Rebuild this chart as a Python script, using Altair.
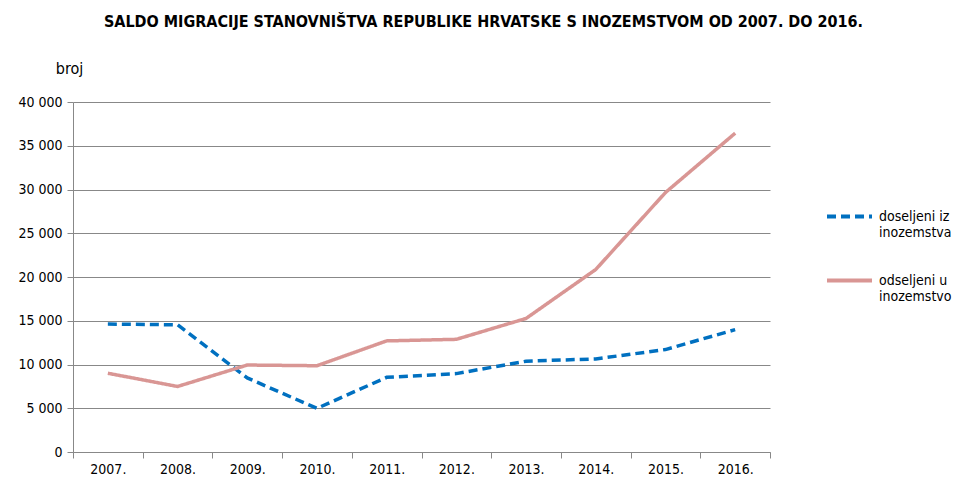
import altair as alt
import pandas as pd

years = ["2007.", "2008.", "2009.", "2010.", "2011.", "2012.", "2013.", "2014.", "2015.", "2016."]
doseljeni = [14622, 14541, 8468, 4985, 8534, 8959, 10378, 10638, 11706, 13985]
odseljeni = [9002, 7488, 9940, 9860, 12699, 12877, 15262, 20858, 29651, 36436]
series = ["doseljeni iz inozemstva", "odseljeni u inozemstvo"]

rows = []
for i, y in enumerate(years):
    rows.append({"godina": y, "serija": series[0], "broj": doseljeni[i]})
    rows.append({"godina": y, "serija": series[1], "broj": odseljeni[i]})
df = pd.DataFrame(rows)

FONT = "Liberation Sans Narrow, DejaVu Sans Condensed, Roboto Condensed, Roboto, sans-serif"

chart = alt.Chart(df).mark_line(strokeWidth=3.5).encode(
    x=alt.X("godina:O", sort=years,
            scale=alt.Scale(type="band", paddingInner=0, paddingOuter=0),
            axis=alt.Axis(title=None, labelAngle=0, tickBand="extent", grid=False,
                          domainColor="#888888", tickColor="#888888", tickSize=6,
                          labelFontSize=14, labelPadding=4, labelColor="#000000",
                          labelFont=FONT)),
    y=alt.Y("broj:Q", scale=alt.Scale(domain=[0, 40000]),
            axis=alt.Axis(values=list(range(0, 40001, 5000)),
                          labelExpr="replace(format(datum.value, ','), ',', ' ')",
                          title="broj", titleAngle=0, titleX=-4, titleY=-34,
                          titleAlign="center", titleBaseline="middle",
                          titleFontWeight="normal", titleFontSize=16, titleFont=FONT,
                          titleColor="#000000",
                          gridColor="#888888", domainColor="#888888", tickColor="#888888",
                          tickSize=6, labelFontSize=14, labelPadding=5,
                          labelColor="#000000", labelFont=FONT)),
    color=alt.Color("serija:N", sort=series,
                    scale=alt.Scale(domain=series, range=["#0070C0", "#D99694"]),
                    legend=alt.Legend(title=None, orient="none", legendX=752, legendY=90,
                                      symbolType="stroke", symbolSize=2025,
                                      symbolStrokeWidth=4, labelFontSize=14,
                                      labelFont=FONT, labelColor="#000000",
                                      labelExpr="datum.label == 'doseljeni iz inozemstva' ? ['doseljeni iz', 'inozemstva'] : ['odseljeni u', 'inozemstvo']",
                                      rowPadding=16, labelOffset=5, labelLimit=200)),
    strokeDash=alt.StrokeDash("serija:N", sort=series,
                              scale=alt.Scale(domain=series, range=[[9, 5], [1, 0]]),
                              legend=None),
).properties(
    width=697, height=350,
    title=alt.TitleParams("SALDO MIGRACIJE STANOVNIŠTVA REPUBLIKE HRVATSKE S INOZEMSTVOM OD 2007. DO 2016.",
                          fontSize=16, fontWeight="bold", font=FONT, color="#000000",
                          anchor="middle", dx=62, offset=30),
    autosize=alt.AutoSizeParams(type="none"),
    padding={"left": 65, "top": 94, "right": 183, "bottom": 24},
).configure_view(stroke=None)

chart.save("out.html", embed_options={"renderer": "svg", "actions": False})
